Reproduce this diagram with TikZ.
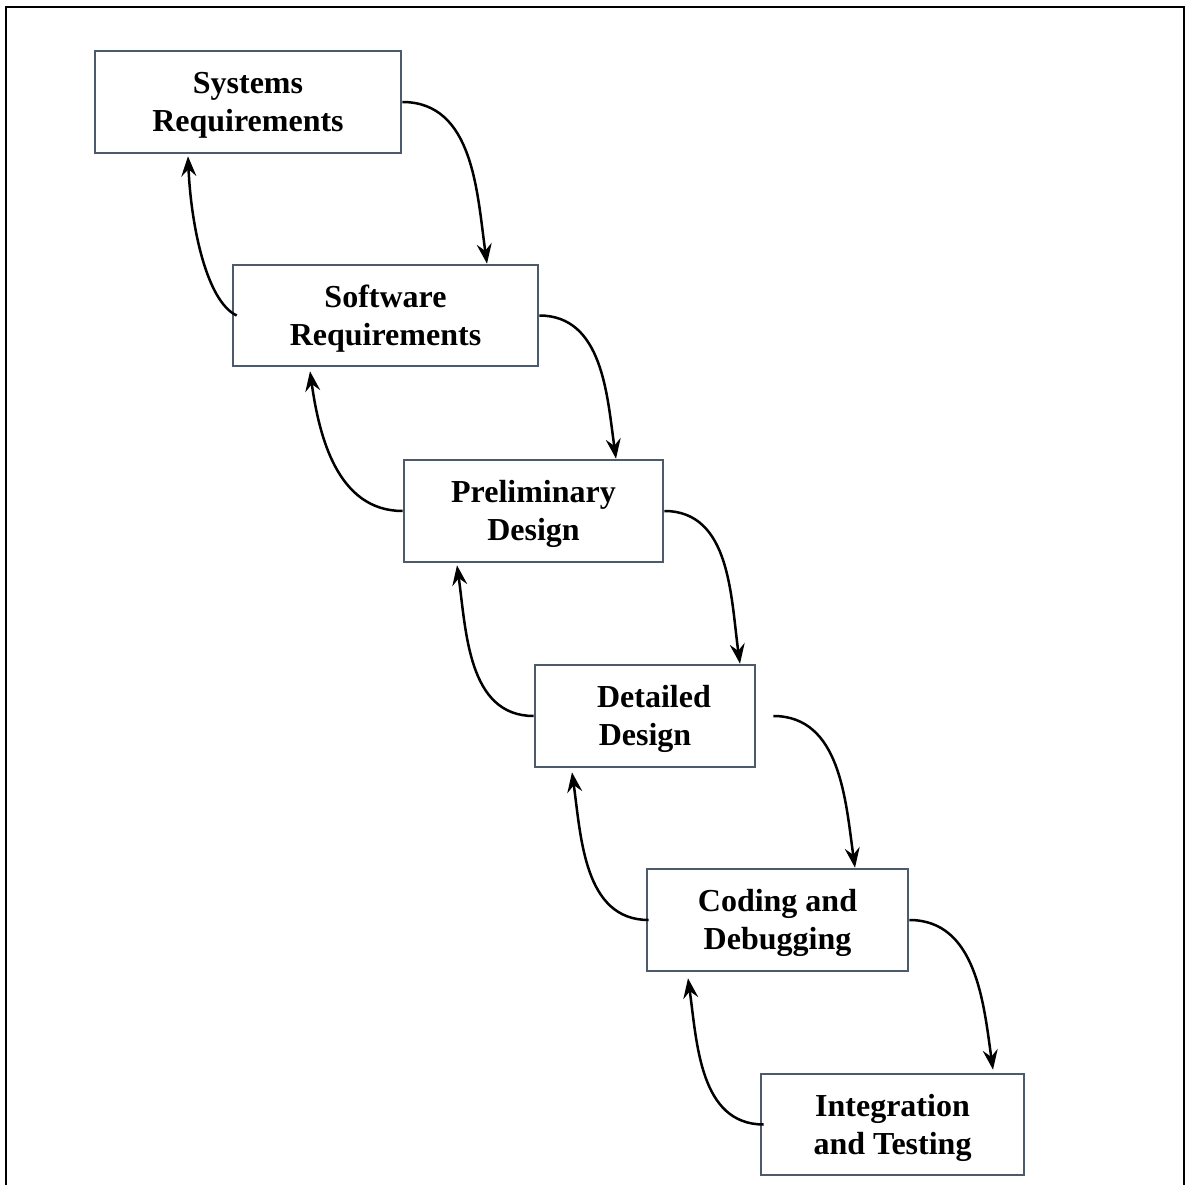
\documentclass[tikz,border=0pt]{standalone}
\usepackage{fontspec}
\setmainfont{Liberation Serif}
\usetikzlibrary{arrows.meta}
\definecolor{boxcol}{HTML}{4D5A6C}
\newcommand{\stg}[1]{\raisebox{-3pt}[\height][\depth]{\begin{tabular}{@{}c@{}}#1\end{tabular}}}
\begin{document}
\begin{tikzpicture}[x=1pt,y=-1pt,
  stage/.style={draw=boxcol, line width=2.6pt, rectangle, inner sep=0pt, align=center,
    font=\fontsize{32}{38}\selectfont\bfseries},
  conn/.style={line width=2.5pt, -{Stealth[length=20pt,width=15pt,inset=7pt]}}]
\useasboundingbox (0,0) rectangle (1187,1185);
\draw[line width=2.2pt] (6,1195) -- (6,7) -- (1184,7) -- (1184,1195);
\node[stage, minimum width=306pt, minimum height=102pt] (a) at (248,102) {\stg{Systems\\Requirements}};
\node[stage, minimum width=305pt, minimum height=101pt] (b) at (385.5,315.5) {\stg{Software\\Requirements}};
\node[stage, minimum width=259pt, minimum height=102pt] (c) at (533.5,511) {\stg{Preliminary\\Design}};
\node[stage, minimum width=220pt, minimum height=102pt] (d) at (645,716) {\stg{\hspace*{18pt}Detailed\\Design}};
\node[stage, minimum width=261pt, minimum height=102pt] (e) at (777.5,920) {\stg{Coding and\\Debugging}};
\node[stage, minimum width=263pt, minimum height=101pt] (f) at (892.5,1124.5) {\stg{Integration\\and Testing}};
% forward arrows
\draw[conn] (a.east) to[out=0,in=98] ([xshift=101.5pt]b.north);
\draw[conn] (b.east) to[out=0,in=98] ([xshift=82.5pt]c.north);
\draw[conn] (c.east) to[out=0,in=98] ([xshift=95pt]d.north);
\draw[conn] ([xshift=17pt]d.east) to[out=0,in=98] ([xshift=77.5pt]e.north);
\draw[conn] (e.east) to[out=0,in=98] ([xshift=100.5pt,yshift=3pt]f.north);
% backward arrows
\draw[conn] ([xshift=5pt]b.west) .. controls +(-30,-14) and +(3,70) .. ([xshift=-60pt,yshift=-2pt]a.south);
\draw[conn] (c.west) to[out=180,in=-82] ([xshift=-75.5pt,yshift=-4pt]b.south);
\draw[conn] (d.west) to[out=180,in=-82] ([xshift=-76.5pt,yshift=-2pt]c.south);
\draw[conn] ([xshift=3pt]e.west) to[out=180,in=-82] ([xshift=-73pt,yshift=-4pt]d.south);
\draw[conn] ([xshift=4pt]f.west) to[out=180,in=-82] ([xshift=-89.5pt,yshift=-6pt]e.south);
\end{tikzpicture}
\end{document}
